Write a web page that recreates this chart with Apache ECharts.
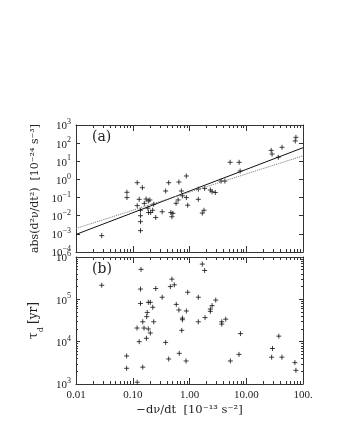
<!DOCTYPE html>
<html>
<head>
<meta charset="utf-8">
<script src="https://cdn.jsdelivr.net/npm/echarts@6/dist/echarts.min.js"></script>
<style>
  html, body { margin: 0; padding: 0; background: #fff; }
  #main { width: 340px; height: 440px; }
</style>
</head>
<body>
<div id="main"></div>
<script>
// panel (a): -dnu/dt vs abs(d2nu/dt2)
var xA = [0.0284, 0.079, 0.079, 0.12, 0.148, 0.13, 0.12, 0.137, 0.137, 0.137, 0.137,
  0.16, 0.172, 0.188, 0.2, 0.185, 0.19, 0.207, 0.224, 0.234, 0.254, 0.33, 0.38, 0.43,
  0.47, 0.51, 0.49, 0.58, 0.63, 0.65, 0.72, 0.75, 0.88, 0.88, 0.93, 1.43, 1.43, 1.68,
  1.8, 1.85, 2.33, 2.5, 2.85, 3.6, 4.2, 5.2, 7.5, 7.8, 27.5, 28.5, 36.7, 42.7, 73, 75];
var yA = [8e-4, 0.195, 0.10, 0.66, 0.35, 0.08, 0.036, 0.020, 0.010, 0.0047, 0.0015,
  0.048, 0.083, 0.065, 0.074, 0.026, 0.015, 0.015, 0.020, 0.043, 0.008, 0.0166, 0.23, 0.66,
  0.015, 0.0135, 0.0088, 0.048, 0.074, 0.72, 0.23, 0.125, 1.55, 0.1, 0.038, 0.29, 0.08, 0.014,
  0.02, 0.32, 0.26, 0.21, 0.19, 0.81, 0.81, 8.8, 8.8, 2.9, 40, 25, 16.7, 59, 132, 209];

// panel (b): -dnu/dt vs tau_d
var xB = [0.0284, 0.14, 0.137, 0.137, 0.188, 0.204, 0.225, 0.254, 0.18, 0.176, 0.15,
  0.234, 0.119, 0.158, 0.188, 0.204, 0.174, 0.13, 0.38, 0.33, 0.078, 0.078, 0.15, 0.12,
  0.43, 0.66, 0.87, 0.73, 0.75, 0.75, 0.585, 0.65, 0.88, 0.93, 0.49, 0.46, 0.54, 1.43,
  1.43, 1.68, 1.85, 1.88, 2.33, 2.33, 2.5, 2.9, 3.7, 3.7, 4.35, 7.9, 5.25, 7.45, 28, 29,
  37.5, 42.5, 72, 75];
var yB = [2.15e5, 5.1e5, 1.75e5, 8e4, 8.5e4, 8.5e4, 6.5e4, 1.8e5, 4.9e4, 3.9e4, 2.95e4,
  2.95e4, 2.1e4, 2.1e4, 2.0e4, 1.6e4, 1.2e4, 1.0e4, 9.6e3, 1.12e5, 4.6e3, 2.35e3, 2.5e3, 1.1e3,
  3.9e3, 5.3e3, 3.5e3, 1.85e4, 3.6e4, 3.3e4, 7.6e4, 5.6e4, 5.3e4, 1.47e5, 3.0e5, 2.0e5, 2.2e5, 1.12e5,
  2.95e4, 6.8e5, 4.8e5, 3.7e4, 5.9e4, 5.2e4, 7.1e4, 9.6e4, 2.95e4, 2.6e4, 3.4e4, 1.55e4,
  3.5e3, 5.0e3, 4.3e3, 6.9e3, 1.35e4, 4.3e3, 3.2e3, 2.1e3];

// fitted lines in panel (a)
var fitX = [0.01, 100];
var fitSolid = [9.3e-4, 56];
var fitDotted = [0.002, 20];

var xTickValues = [0.01, 0.1, 1, 10, 100];
var xTickLabels = ['0.01', '0.10', '1.00', '10.00', '100.'];

var FONT = 'Liberation Serif';
var NAMEFONT = 'DejaVu Serif';

function pairs(xs, ys) {
  var out = [];
  for (var i = 0; i < xs.length; i++) out.push([xs[i], ys[i]]);
  return out;
}

function powLabel(v) {
  var e = Math.round(Math.log10(v));
  return '{b|10}{s|' + (e < 0 ? '\u2212' + (-e) : e) + '}';
}

function xLabel(v) {
  for (var i = 0; i < xTickValues.length; i++) {
    if (Math.abs(Math.log10(v) - Math.log10(xTickValues[i])) < 1e-6) return xTickLabels[i];
  }
  return '';
}

var powRich = {
  b: { fontFamily: FONT, fontSize: 11, color: '#222', verticalAlign: 'bottom', lineHeight: 14 },
  s: { fontFamily: FONT, fontSize: 8, color: '#222', verticalAlign: 'top', lineHeight: 14 }
};

var axisLine = { show: true, onZero: false, lineStyle: { color: '#333', width: 1 } };

function xAx(grid, pos, labels) {
  return {
    type: 'log', gridIndex: grid, position: pos, min: 0.01, max: 100, splitNumber: 4,
    axisLine: axisLine,
    axisTick: { inside: true, length: 6, lineStyle: { color: '#333' } },
    minorTick: { show: true, splitNumber: 9, length: 3, lineStyle: { color: '#333' } },
    splitLine: { show: false },
    axisLabel: labels ? { show: true, formatter: xLabel, fontFamily: FONT, fontSize: 11, color: '#222', margin: 6 } : { show: false }
  };
}

function yAx(grid, pos, min, max, split, labels) {
  return {
    type: 'log', gridIndex: grid, position: pos, min: min, max: max, splitNumber: split,
    axisLine: axisLine,
    axisTick: { inside: true, length: 4, lineStyle: { color: '#333' } },
    minorTick: { show: grid === 1, splitNumber: 9, length: 2, lineStyle: { color: '#333' } },
    splitLine: { show: false },
    axisLabel: labels ? { show: true, formatter: powLabel, rich: powRich, margin: 5 } : { show: false }
  };
}

var plusSymbol = 'path://M0,5L10,5M5,0L5,10';

var chart = echarts.init(document.getElementById('main'), null, { renderer: 'canvas' });

var xa = [xAx(0, 'bottom', false), xAx(0, 'top', false), xAx(1, 'bottom', true), xAx(1, 'top', false)];
xa[2].name = '\u2212d\u03bd/dt  [10\u207b\u00b9\u00b3 s\u207b\u00b2]';
xa[2].nameLocation = 'middle';
xa[2].nameGap = 20;
xa[2].nameTextStyle = { fontFamily: NAMEFONT, fontSize: 11.5, color: '#222' };

var ya = [yAx(0, 'left', 1e-4, 1e3, 7, true), yAx(0, 'right', 1e-4, 1e3, 7, false),
  yAx(1, 'left', 1e3, 1e6, 3, true), yAx(1, 'right', 1e3, 1e6, 3, false)];
ya[0].name = 'abs(d\u00b2\u03bd/dt\u00b2)  [10\u207b\u00b2\u2074 s\u207b\u00b3]';
ya[0].nameLocation = 'middle';
ya[0].nameRotate = 90;
ya[0].nameGap = 31;
ya[0].nameTextStyle = { fontFamily: NAMEFONT, fontSize: 11, color: '#222' };
ya[2].name = '{t|\u03c4}{d|d} {t|[yr]}';
ya[2].nameLocation = 'middle';
ya[2].nameRotate = 90;
ya[2].nameGap = 21;
ya[2].nameTextStyle = {
  rich: {
    t: { fontFamily: NAMEFONT, fontSize: 12, color: '#222', verticalAlign: 'top', lineHeight: 15 },
    d: { fontFamily: NAMEFONT, fontSize: 8, color: '#222', verticalAlign: 'bottom', lineHeight: 17 }
  }
};

chart.setOption({
  animation: false,
  backgroundColor: '#fff',
  grid: [
    { left: 76, top: 125, width: 227, height: 127 },
    { left: 76, top: 257, width: 227, height: 127 }
  ],
  xAxis: xa,
  yAxis: ya,
  graphic: [
    { type: 'text', left: 92, top: 130, style: { text: '(a)', font: '14px "DejaVu Serif"', fill: '#222' } },
    { type: 'text', left: 92, top: 262, style: { text: '(b)', font: '14px "DejaVu Serif"', fill: '#222' } }
  ],
  series: [
    {
      type: 'scatter', xAxisIndex: 0, yAxisIndex: 0, data: pairs(xA, yA),
      symbol: plusSymbol, symbolSize: 5,
      itemStyle: { color: 'transparent', borderColor: '#111', borderWidth: 1 }
    },
    {
      type: 'line', xAxisIndex: 0, yAxisIndex: 0, data: pairs(fitX, fitSolid),
      symbol: 'none', lineStyle: { color: '#111', width: 1 }
    },
    {
      type: 'line', xAxisIndex: 0, yAxisIndex: 0, data: pairs(fitX, fitDotted),
      symbol: 'none', lineStyle: { color: '#777', width: 1, type: 'dotted' }
    },
    {
      type: 'scatter', xAxisIndex: 2, yAxisIndex: 2, data: pairs(xB, yB),
      symbol: plusSymbol, symbolSize: 5,
      itemStyle: { color: 'transparent', borderColor: '#111', borderWidth: 1 }
    }
  ]
});
</script>
</body>
</html>
